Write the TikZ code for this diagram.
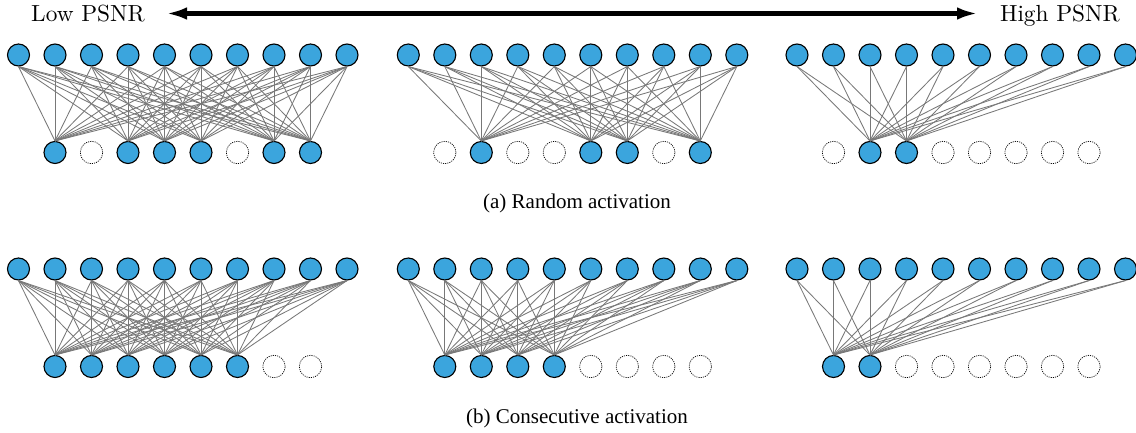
\documentclass[tikz,border=0pt]{standalone}
\usepackage{fontspec}
\newfontfamily\capfont{Liberation Serif}
\newfontfamily\lmten{lmroman10-regular}[Extension=.otf]
\usetikzlibrary{arrows.meta}
\definecolor{nblue}{RGB}{59,165,221}
\definecolor{edgegray}{RGB}{120,120,120}
\tikzset{
  neuron/.style={circle, draw=black, line width=1.1pt, fill=nblue, minimum size=22pt, inner sep=0pt},
  offneuron/.style={circle, draw=black, line width=0.7pt, dash pattern=on 1.1pt off 1.1pt, minimum size=22.4pt, inner sep=0pt},
  wire/.style={draw=edgegray, line width=0.85pt},
  psnr/.style={inner sep=0pt, font=\lmten\fontsize{23.3}{27}\selectfont},
  caption/.style={inner sep=0pt, anchor=base, font=\capfont\fontsize{21}{25}\selectfont},
}
\newcommand\drawpanel[6]{%
  \foreach \i in {0,...,9} \node[neuron] (#1t\i) at ({#2+\i*36.5},#3) {};
  \foreach \j in {#5} \node[neuron] (#1b\j) at ({#2+\j*36.5},#4) {};
  \foreach \j in {#6} \node[offneuron] (#1b\j) at ({#2+\j*36.5},#4) {};
  \foreach \j in {#5} {\foreach \i in {0,...,9} {\draw[wire] (#1t\i.south) -- (#1b\j.north);}}
}
\begin{document}
\begin{tikzpicture}[x=1pt,y=-1pt]
\useasboundingbox (0,0) rectangle (1136,433);
% header
\node[psnr, anchor=base west] (low) at (31,21.7) {Low PSNR};
\node[psnr, anchor=base east] (high) at (1120,21.7) {High PSNR};
\coordinate (al) at (166,13.5);
\coordinate (ar) at (978,13.5);
\draw[line width=5.5pt, {Latex[length=21pt,width=12.5pt]}-{Latex[length=21pt,width=12.5pt]}] (al) -- (ar);
% (a) random activation
\drawpanel{aa}{18.5}{55}{152.5}{1,3,4,5,7,8}{2,6}
\drawpanel{ab}{408.3}{55}{152.5}{2,5,6,8}{1,3,4,7}
\drawpanel{ac}{797}{55}{152.5}{2,3}{1,4,5,6,7,8}
\node[caption] (capa) at (577,208.3) {(a) Random activation};
% (b) consecutive activation
\drawpanel{ba}{18.5}{269}{366.5}{1,2,3,4,5,6}{7,8}
\drawpanel{bb}{408.3}{269}{366.5}{1,2,3,4}{5,6,7,8}
\drawpanel{bc}{797}{269}{366.5}{1,2}{3,4,5,6,7,8}
\node[caption] (capb) at (577,423.3) {(b) Consecutive activation};
\end{tikzpicture}
\end{document}
